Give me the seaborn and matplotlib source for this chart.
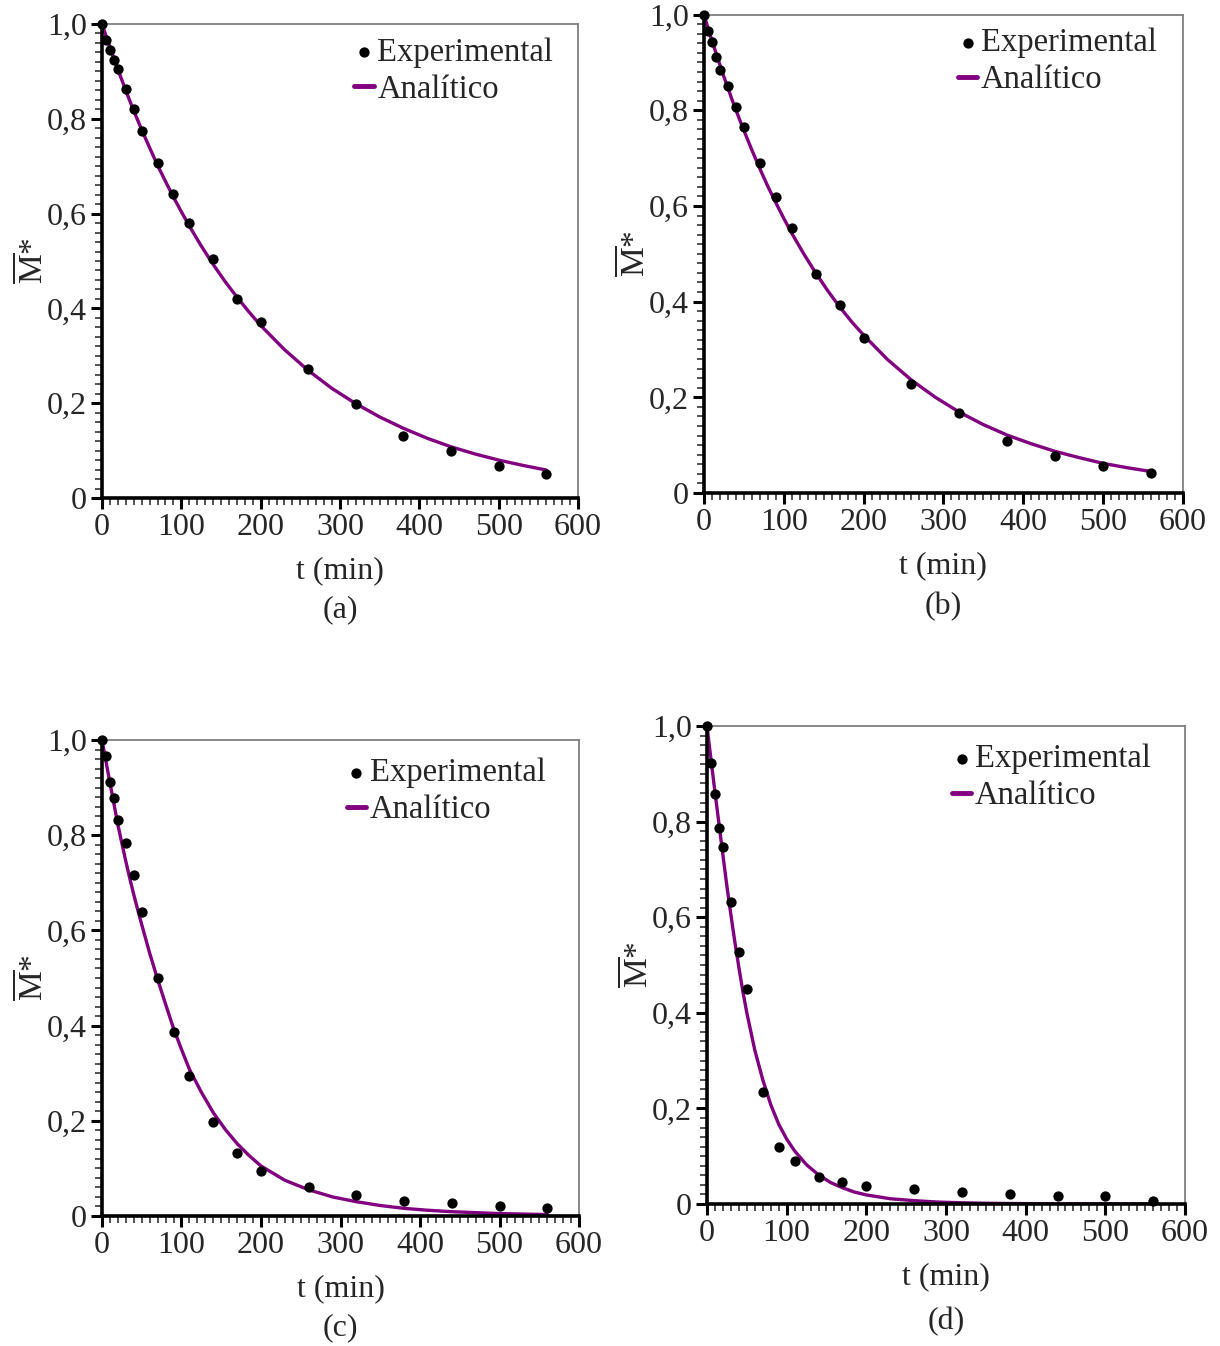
import matplotlib
matplotlib.use("Agg")
import matplotlib.pyplot as plt
from matplotlib.ticker import MultipleLocator, FuncFormatter
import seaborn as sns

# Tiempos experimentales (min)
t_exp = [0, 5, 10, 15, 20, 30, 40, 50, 70, 90, 110, 140, 170, 200, 260, 320, 380, 440, 500, 560]

# Puntos experimentales de cada caso
exp_a = [1.0, 0.966, 0.945, 0.923, 0.905, 0.863, 0.821, 0.774, 0.707, 0.641, 0.581, 0.504, 0.42, 0.371,
         0.272, 0.198, 0.131, 0.099, 0.068, 0.05]
exp_b = [1.0, 0.966, 0.943, 0.912, 0.885, 0.85, 0.806, 0.765, 0.69, 0.619, 0.554, 0.458, 0.393, 0.324,
         0.227, 0.168, 0.109, 0.078, 0.057, 0.042]
exp_c = [1.0, 0.967, 0.911, 0.878, 0.833, 0.783, 0.716, 0.639, 0.501, 0.387, 0.295, 0.198, 0.133, 0.095,
         0.06, 0.044, 0.032, 0.028, 0.021, 0.016]
exp_d = [1.0, 0.922, 0.857, 0.787, 0.746, 0.632, 0.528, 0.45, 0.235, 0.12, 0.089, 0.057, 0.045, 0.038,
         0.031, 0.026, 0.020, 0.017, 0.017, 0.007]

# Curvas analíticas
t_an = [0, 5, 10, 15, 20, 25, 30, 35, 40, 45, 50, 60, 70, 80, 90, 100, 110, 125, 140, 155, 170, 185, 200,
        230, 260, 290, 320, 350, 380, 410, 440, 470, 500, 530, 560]
an_a = [1.0, 0.975, 0.951, 0.927, 0.904, 0.882, 0.86, 0.838, 0.817, 0.797, 0.777, 0.739, 0.702, 0.668,
        0.635, 0.604, 0.574, 0.532, 0.493, 0.457, 0.424, 0.393, 0.364, 0.313, 0.269, 0.231, 0.199, 0.171,
        0.147, 0.126, 0.108, 0.093, 0.08, 0.069, 0.059]
an_b = [1.0, 0.972, 0.946, 0.92, 0.895, 0.87, 0.847, 0.823, 0.801, 0.779, 0.758, 0.717, 0.678, 0.641,
        0.607, 0.574, 0.543, 0.5, 0.46, 0.423, 0.389, 0.358, 0.33, 0.279, 0.236, 0.2, 0.169, 0.143,
        0.121, 0.103, 0.087, 0.074, 0.062, 0.053, 0.045]
an_c = [1.0, 0.955, 0.91, 0.866, 0.822, 0.783, 0.745, 0.709, 0.675, 0.643, 0.612, 0.552, 0.497, 0.445,
        0.394, 0.35, 0.308, 0.26, 0.217, 0.182, 0.152, 0.127, 0.105, 0.075, 0.055, 0.04, 0.03, 0.022,
        0.016, 0.012, 0.009, 0.007, 0.005, 0.004, 0.003]
an_d = [1.0, 0.93, 0.862, 0.796, 0.73, 0.665, 0.605, 0.548, 0.495, 0.445, 0.4, 0.322, 0.26, 0.208,
        0.167, 0.136, 0.111, 0.082, 0.061, 0.045, 0.034, 0.025, 0.019, 0.011, 0.007, 0.004, 0.0025,
        0.0015, 0.001, 0.0006, 0.0004, 0.0003, 0.0002, 0.0001, 0.0001]

paneles = ["(a)", "(b)", "(c)", "(d)"]
experimental = [exp_a, exp_b, exp_c, exp_d]
analitico = [an_a, an_b, an_c, an_d]

sns.set_style("ticks")
plt.rcParams["font.family"] = ["Liberation Serif", "DejaVu Serif"]
plt.rcParams["mathtext.fontset"] = "custom"
plt.rcParams["mathtext.rm"] = "Liberation Serif"
plt.rcParams["mathtext.it"] = "Liberation Serif:italic"

fig = plt.figure(figsize=(12.2, 13.46), dpi=100)

# posiciones de los ejes [left, bottom, width, height] en fracción de figura
posiciones = [
    [0.0836, 0.630, 0.3902, 0.3522],
    [0.5770, 0.6337, 0.3926, 0.3555],
    [0.0836, 0.0966, 0.3910, 0.3536],
    [0.5795, 0.1055, 0.3918, 0.3551],
]
leyendas = [(0.530, 0.972), (0.530, 0.972), (0.513, 0.963), (0.512, 0.963)]
etiqueta_y = [-0.236, -0.238, -0.235, -0.247]
fs = 23

for i in range(4):
    ax = fig.add_axes(posiciones[i])
    sns.scatterplot(x=t_exp, y=experimental[i], ax=ax, color="black", s=55, linewidth=0,
                    label="Experimental", zorder=3, clip_on=False)
    sns.lineplot(x=t_an, y=analitico[i], ax=ax, color="#800080", lw=2.4, label="Analítico", zorder=2)

    ax.set_xlim(0, 600)
    ax.set_ylim(0, 1.0)
    ax.xaxis.set_major_locator(MultipleLocator(100))
    ax.xaxis.set_minor_locator(MultipleLocator(10))
    ax.yaxis.set_major_locator(MultipleLocator(0.2))
    ax.yaxis.set_minor_locator(MultipleLocator(0.02))
    ax.yaxis.set_major_formatter(FuncFormatter(lambda v, p: "0" if abs(v) < 1e-9 else f"{v:.1f}".replace(".", ",")))
    ax.tick_params(which="major", length=8, width=2.2, labelsize=fs, color="black", pad=3)
    ax.tick_params(which="minor", length=5, width=1.3, color="#444444")

    for lado in ["left", "bottom"]:
        ax.spines[lado].set_linewidth(2.6)
        ax.spines[lado].set_color("black")
    for lado in ["top", "right"]:
        ax.spines[lado].set_linewidth(1.3)
        ax.spines[lado].set_color("#7f7f7f")

    ax.set_xlabel("t (min)", fontsize=fs, labelpad=10)
    ax.set_ylabel(r"$\overline{\mathrm{M}}$*", fontsize=fs + 1, labelpad=-2)
    ax.text(0.5, etiqueta_y[i], paneles[i], transform=ax.transAxes, ha="center", va="center", fontsize=fs)

    leg = ax.legend(loc="upper left", bbox_to_anchor=leyendas[i], frameon=False, fontsize=fs + 0.5,
                    handlelength=0.6, handletextpad=0.1, borderpad=0, borderaxespad=0, labelspacing=0.2)
    leg.get_lines()[0].set_linewidth(3.5)

plt.savefig("out.png", dpi=100)
